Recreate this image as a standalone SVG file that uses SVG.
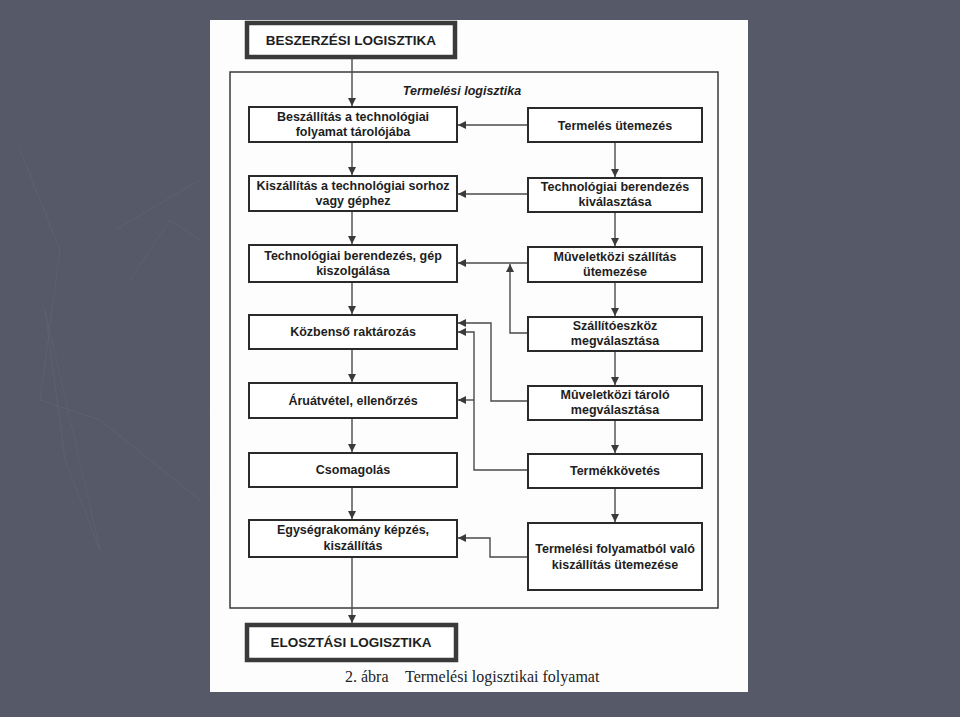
<svg xmlns="http://www.w3.org/2000/svg" width="960" height="717" viewBox="0 0 960 717">
<style>
.box{fill:#ffffff;stroke:#2a2a2a;stroke-width:2}
.thick{fill:#ffffff;stroke:#3a3a3a;stroke-width:4.5}
.t{font-family:"Liberation Sans",Arial,sans-serif;font-weight:bold;font-size:12.5px;fill:#1e1e1e;text-anchor:middle}
.tb{font-family:"Liberation Sans",Arial,sans-serif;font-weight:bold;font-size:13.5px;fill:#1e1e1e;text-anchor:middle}
.ln{fill:none;stroke:#4a4a4a;stroke-width:1.4}
.deco{fill:none;stroke:#666a78;stroke-width:1;opacity:0.45}
</style>
<defs>
<marker id="ah" viewBox="0 0 10 10" refX="10" refY="5" markerWidth="10" markerHeight="8" markerUnits="userSpaceOnUse" orient="auto">
<path d="M0,0 L10,5 L0,10 Z" fill="#3a3a3a"/>
</marker>
</defs>
<rect width="960" height="717" fill="#555968"/>
<g id="decor">
<circle cx="100" cy="450" r="115" class="deco" stroke-dasharray="1 3" stroke-width="5"/>
<path class="deco" d="M45,310 L100,550 L65,460 Z" fill="#5c606e"/>
<path class="deco" d="M20,150 L60,250 L40,400 L100,420 L200,500"/>
<path class="deco" d="M115,230 L200,180 M130,280 L170,220 L200,240"/>
</g>
<rect x="210" y="20" width="538" height="672" fill="#fdfdfd"/>
<g id="frame">
<rect x="230" y="72" width="488" height="536" fill="none" stroke="#3a3a3a" stroke-width="1.5"/>
<text x="462" y="95" class="t" font-style="italic" font-size="13">Termelési logisztika</text>
</g>
<g id="connectors">
<line class="ln" x1="352" y1="58" x2="352" y2="106" marker-end="url(#ah)"/>
<line class="ln" x1="352" y1="142" x2="352" y2="175" marker-end="url(#ah)"/>
<line class="ln" x1="352" y1="211" x2="352" y2="244" marker-end="url(#ah)"/>
<line class="ln" x1="352" y1="282" x2="352" y2="314" marker-end="url(#ah)"/>
<line class="ln" x1="352" y1="349" x2="352" y2="382" marker-end="url(#ah)"/>
<line class="ln" x1="352" y1="418" x2="352" y2="452" marker-end="url(#ah)"/>
<line class="ln" x1="352" y1="487" x2="352" y2="519" marker-end="url(#ah)"/>
<line class="ln" x1="352" y1="557" x2="352" y2="623" marker-end="url(#ah)"/>
<line class="ln" x1="615" y1="142" x2="615" y2="177" marker-end="url(#ah)"/>
<line class="ln" x1="615" y1="212" x2="615" y2="246" marker-end="url(#ah)"/>
<line class="ln" x1="615" y1="282" x2="615" y2="316" marker-end="url(#ah)"/>
<line class="ln" x1="615" y1="351" x2="615" y2="385" marker-end="url(#ah)"/>
<line class="ln" x1="615" y1="420" x2="615" y2="453" marker-end="url(#ah)"/>
<line class="ln" x1="615" y1="488" x2="615" y2="522" marker-end="url(#ah)"/>
<line class="ln" x1="527" y1="125" x2="458" y2="125" marker-end="url(#ah)"/>
<line class="ln" x1="527" y1="194" x2="458" y2="194" marker-end="url(#ah)"/>
<line class="ln" x1="527" y1="263" x2="458" y2="263" marker-end="url(#ah)"/>
<polyline class="ln" points="527,333 510,333 510,264" marker-end="url(#ah)"/>
<polyline class="ln" points="527,401 491,401 491,323 458,323" marker-end="url(#ah)"/>
<polyline class="ln" points="527,470 474,470 474,332 458,332" marker-end="url(#ah)"/>
<line class="ln" x1="474" y1="400" x2="458" y2="400" marker-end="url(#ah)"/>
<polyline class="ln" points="527,557 490,557 490,538 458,538" marker-end="url(#ah)"/>
</g>
<g id="n-beszerzesi">
<rect x="247" y="23" width="208" height="34" class="thick"/>
<text x="351" y="45" class="tb">BESZERZÉSI LOGISZTIKA</text>
</g>
<g id="n-l1">
<rect x="249" y="107" width="208" height="35" class="box"/>
<text x="353" y="121" class="t">Beszállítás a technológiai</text>
<text x="353" y="136" class="t">folyamat tárolójába</text>
</g>
<g id="n-l2">
<rect x="249" y="176" width="208" height="35" class="box"/>
<text x="353" y="190" class="t">Kiszállítás a technológiai sorhoz</text>
<text x="353" y="205" class="t">vagy géphez</text>
</g>
<g id="n-l3">
<rect x="249" y="245" width="208" height="37" class="box"/>
<text x="353" y="260" class="t">Technológiai berendezés, gép</text>
<text x="353" y="275" class="t">kiszolgálása</text>
</g>
<g id="n-l4">
<rect x="249" y="315" width="208" height="34" class="box"/>
<text x="353" y="336" class="t">Közbenső raktározás</text>
</g>
<g id="n-l5">
<rect x="249" y="383" width="208" height="35" class="box"/>
<text x="353" y="405" class="t">Áruátvétel, ellenőrzés</text>
</g>
<g id="n-l6">
<rect x="249" y="453" width="208" height="34" class="box"/>
<text x="353" y="474" class="t">Csomagolás</text>
</g>
<g id="n-l7">
<rect x="249" y="520" width="208" height="37" class="box"/>
<text x="353" y="534" class="t">Egységrakomány képzés,</text>
<text x="353" y="550" class="t">kiszállítás</text>
</g>
<g id="n-r1">
<rect x="528" y="108" width="174" height="34" class="box"/>
<text x="615" y="130" class="t">Termelés ütemezés</text>
</g>
<g id="n-r2">
<rect x="528" y="178" width="174" height="34" class="box"/>
<text x="615" y="191" class="t">Technológiai berendezés</text>
<text x="615" y="206" class="t">kiválasztása</text>
</g>
<g id="n-r3">
<rect x="528" y="247" width="174" height="35" class="box"/>
<text x="615" y="261" class="t">Mûveletközi szállítás</text>
<text x="615" y="276" class="t">ütemezése</text>
</g>
<g id="n-r4">
<rect x="528" y="317" width="174" height="34" class="box"/>
<text x="615" y="330" class="t">Szállítóeszköz</text>
<text x="615" y="345" class="t">megválasztása</text>
</g>
<g id="n-r5">
<rect x="528" y="386" width="174" height="34" class="box"/>
<text x="615" y="399" class="t">Mûveletközi tároló</text>
<text x="615" y="414" class="t">megválasztása</text>
</g>
<g id="n-r6">
<rect x="528" y="454" width="174" height="34" class="box"/>
<text x="615" y="475" class="t">Termékkövetés</text>
</g>
<g id="n-r7">
<rect x="528" y="523" width="174" height="67" class="box"/>
<text x="615" y="553" class="t">Termelési folyamatból való</text>
<text x="615" y="569" class="t">kiszállítás ütemezése</text>
</g>
<g id="n-elosztasi">
<rect x="247" y="625" width="209" height="35" class="thick"/>
<text x="351" y="647" class="tb">ELOSZTÁSI LOGISZTIKA</text>
</g>
<text x="345" y="682" font-family="Liberation Serif,Times New Roman,serif" font-size="16" fill="#222">2. ábra<tspan x="405">Termelési logisztikai folyamat</tspan></text>
</svg>
